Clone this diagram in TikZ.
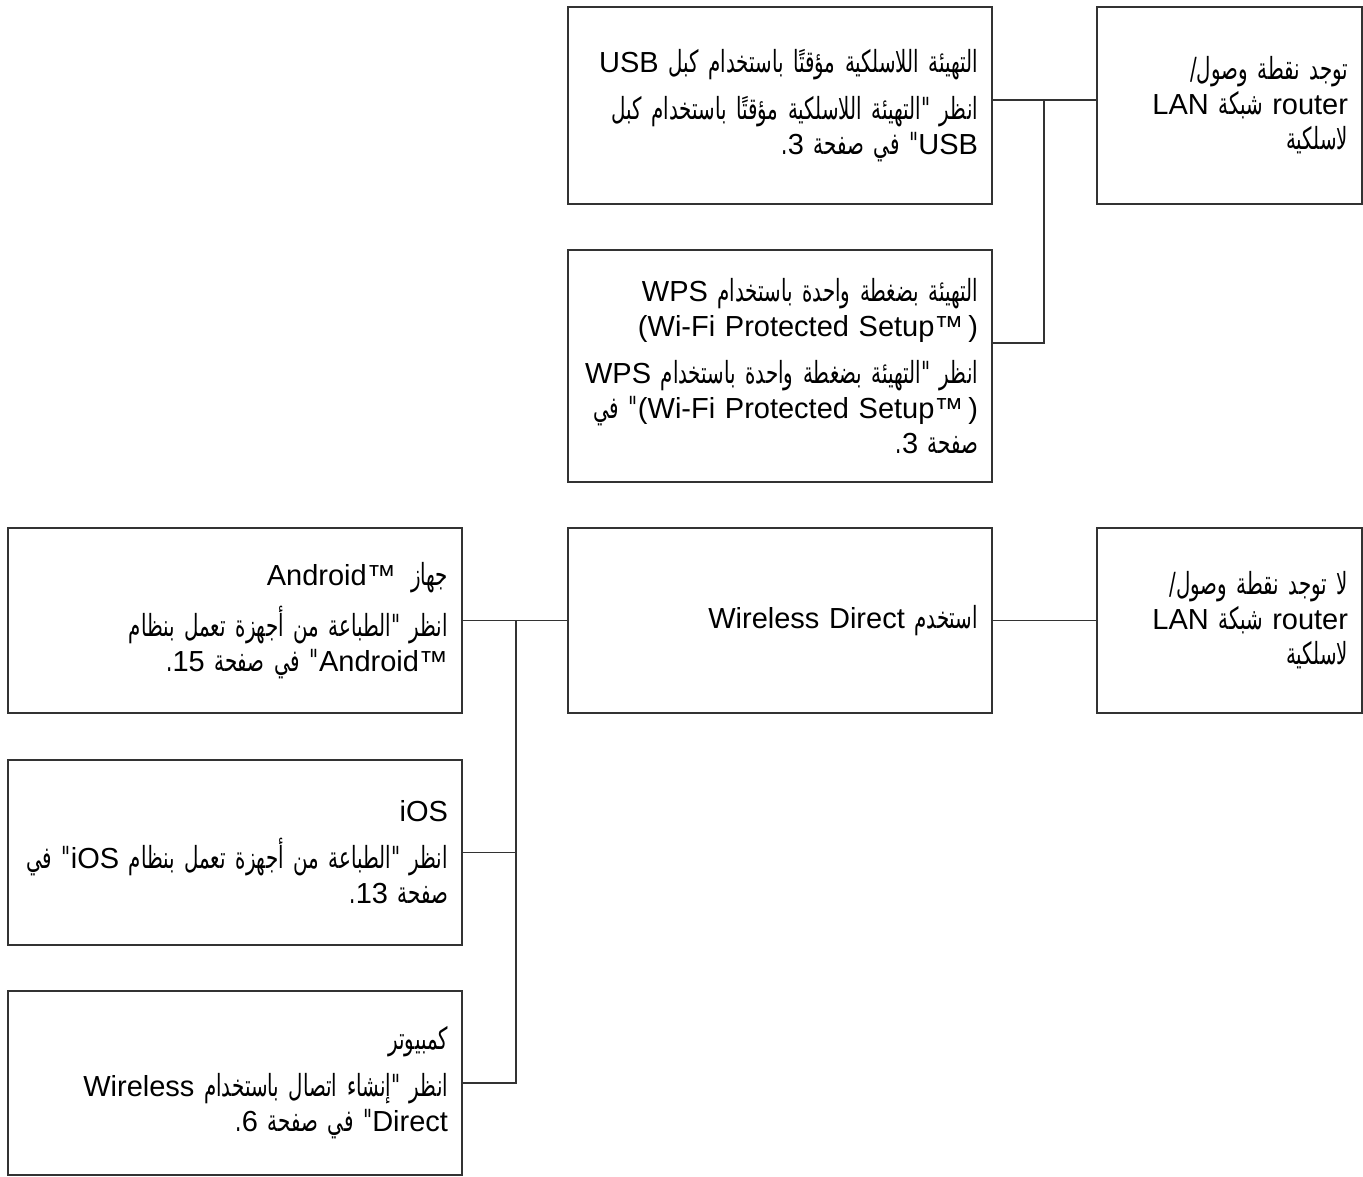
\documentclass[tikz,border=0pt]{standalone}
\usepackage{fontspec}
\setmainfont{Liberation Sans}
\newfontfamily\arabicfont[Script=Arabic,Scale=1.05,FakeStretch=0.65]{DejaVu Sans}
\TeXXeTstate=1
\newcommand{\arline}[1]{\mbox{\arabicfont\beginR #1\endR}}
\newcommand{\lat}[1]{\beginL{\rmfamily #1}\endL}

\begin{document}
\begin{tikzpicture}[x=1pt,y=-1pt,
  box/.style={draw=black!80, line width=1.1pt, inner xsep=14pt, inner ysep=0pt,
    align=right, font=\fontsize{29}{35}\selectfont},
  narrow/.style={box, text width=237pt},
  wide/.style={box, text width=396pt},
  wider/.style={box, text width=426pt},
  link/.style={draw=black!80, line width=1.1pt}]
\useasboundingbox (0,0) rectangle (1363,1176);

\node[narrow, minimum height=197pt] (haveap) at (1229.5,105.5)
  {\arline{توجد نقطة وصول/}\\ \arline{\lat{router} شبكة \lat{LAN}}\\ \arline{لاسلكية}};
\node[wide, minimum height=197pt] (usb) at (780,105.5)
  {\arline{التهيئة اللاسلكية مؤقتًا باستخدام كبل \lat{USB}}\\[12pt]
   \arline{انظر "التهيئة اللاسلكية مؤقتًا باستخدام كبل}\\
   \arline{\lat{USB}" في صفحة \lat{3}.}};
\node[wide, minimum height=232pt] (wps) at (780,366)
  {\arline{التهيئة بضغطة واحدة باستخدام \lat{WPS}}\\
   \arline{\lat{(Wi-Fi Protected Setup™\,)}}\\[12pt]
   \arline{انظر "التهيئة بضغطة واحدة باستخدام \lat{WPS}}\\
   \arline{\lat{(Wi-Fi Protected Setup™\,)}" في}\\
   \arline{صفحة \lat{3}.}};

\node[narrow, minimum height=185pt] (noap) at (1229.5,620.5)
  {\arline{لا توجد نقطة وصول/}\\ \arline{\lat{router} شبكة \lat{LAN}}\\ \arline{لاسلكية}};
\node[wide, minimum height=185pt] (direct) at (780,620.5)
  {\arline{استخدم \lat{Wireless Direct}}};
\node[wider, minimum height=185pt] (android) at (235,620.5)
  {\arline{جهاز\enspace \lat{Android™}}\\[12pt]
   \arline{انظر "الطباعة من أجهزة تعمل بنظام}\\
   \arline{\lat{Android™}" في صفحة \lat{15}.}};
\node[wider, minimum height=185pt] (ios) at (235,852.5)
  {\arline{\lat{iOS}}\\[12pt]
   \arline{انظر "الطباعة من أجهزة تعمل بنظام \lat{iOS}" في}\\
   \arline{صفحة \lat{13}.}};
\node[wider, minimum height=184pt] (pc) at (235,1083)
  {\arline{كمبيوتر}\\[12pt]
   \arline{انظر "إنشاء اتصال باستخدام \lat{Wireless}}\\
   \arline{\lat{Direct}" في صفحة \lat{6}.}};

\draw[link] ([yshift=5.5pt]usb.east) -- ([yshift=5.5pt]haveap.west);
\coordinate (topjoin) at (1044,100);
\draw[link] (topjoin) |- ([yshift=23pt]wps.east);
\draw[link] (direct.east) -- (noap.west);
\draw[link] (direct.west) -- (android.east);
\coordinate (botjoin) at (516,620.5);
\draw[link] (botjoin) |- (ios.east);
\draw[link] (botjoin) |- (pc.east);
\end{tikzpicture}
\end{document}
